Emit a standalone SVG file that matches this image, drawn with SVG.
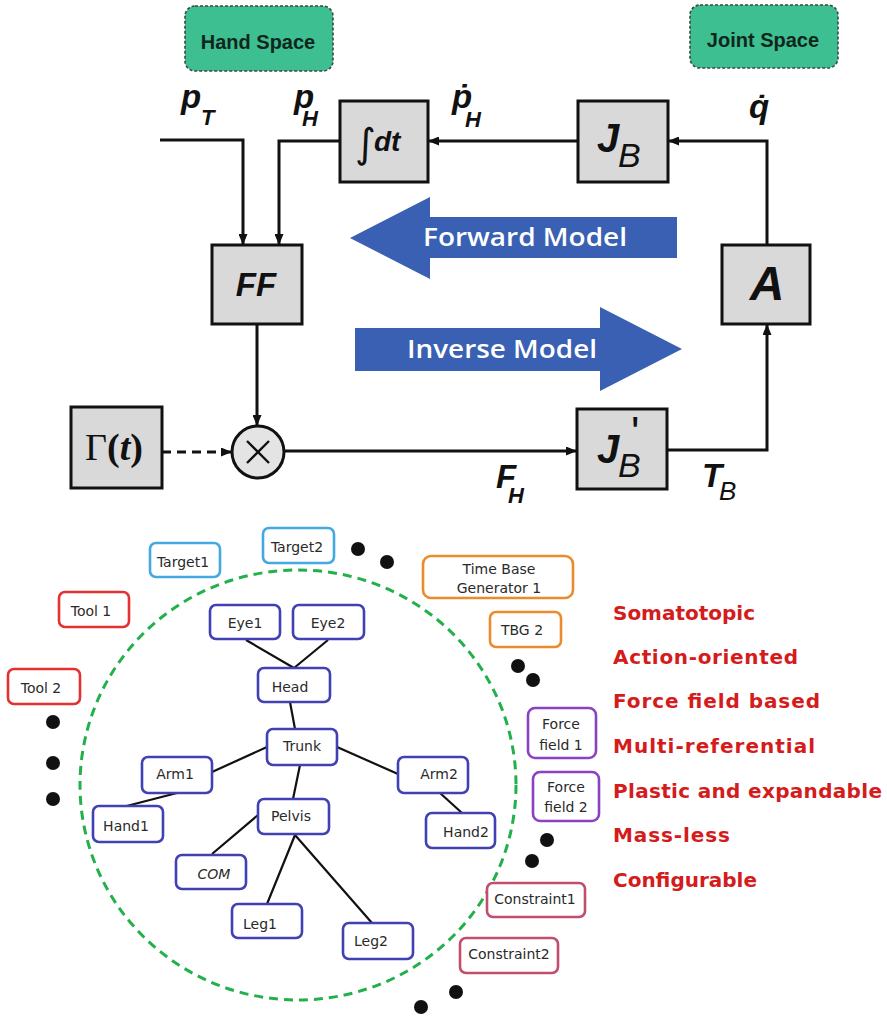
<svg xmlns="http://www.w3.org/2000/svg" width="887" height="1017" viewBox="0 0 887 1017">
<style>
.blk{fill:#d9d9d9;stroke:#111;stroke-width:3}
.sp{fill:#3dbf92;stroke:#3a4a40;stroke-width:1.6;stroke-dasharray:3,2}
.spt{font-family:"Liberation Sans",Arial,sans-serif;font-weight:bold;font-size:20px;fill:#10261c;text-anchor:middle}
.m{font-family:"Liberation Sans",Arial,sans-serif;font-weight:bold;font-style:italic;fill:#111}
.sub{font-weight:normal}
.con{fill:none;stroke:#111;stroke-width:3}
.edge{fill:none;stroke:#111;stroke-width:2.2}
.bigA{fill:#3a60b3}
.at{font-family:"Open Sans","Liberation Sans",sans-serif;font-weight:600;font-size:25px;fill:#fff}
.n{fill:#fff;stroke-width:2.6}
.nb{stroke:#4141b3}
.tg{stroke:#44a9e0}
.tl{stroke:#e33232}
.tb{stroke:#ea8b2c}
.ff{stroke:#8a42c2}
.cs{stroke:#c24d6c}
.lb{font-family:"DejaVu Sans",Verdana,sans-serif;font-size:14px;fill:#2a2a2a;text-anchor:middle}
.dot{fill:#111}
.red{font-family:"DejaVu Sans",Verdana,sans-serif;font-weight:bold;font-size:20px;fill:#d41c1c}
</style>
<defs>
<marker id="ah" markerUnits="userSpaceOnUse" markerWidth="11" markerHeight="9" refX="10" refY="4.5" orient="auto">
<path d="M0,0 L11,4.5 L0,9 z" fill="#111"/>
</marker>
</defs>

<g id="hand-space"><rect class="sp" x="185" y="6" width="148" height="65" rx="10"/><text class="spt" x="258" y="49">Hand Space</text></g>
<g id="joint-space"><rect class="sp" x="690" y="5" width="148" height="63" rx="10"/><text class="spt" x="763" y="47">Joint Space</text></g>

<g id="forward-model"><path class="bigA" d="M350,238 L430,197 L430,217 L677,217 L677,258 L430,258 L430,279 z"/><text class="at" x="525" y="246" text-anchor="middle" textLength="204" lengthAdjust="spacingAndGlyphs">Forward Model</text></g>
<g id="inverse-model"><path class="bigA" d="M355,328 L600,328 L600,307 L682,349 L600,391 L600,371 L355,371 z"/><text class="at" x="502" y="358" text-anchor="middle" textLength="190" lengthAdjust="spacingAndGlyphs">Inverse Model</text></g>

<g id="connectors">
<path class="con" d="M160,140 H243 V244" marker-end="url(#ah)"/>
<path class="con" d="M340,141 H279 V244" marker-end="url(#ah)"/>
<path class="con" d="M578,141 H429" marker-end="url(#ah)"/>
<path class="con" d="M767,245 V141 H669" marker-end="url(#ah)"/>
<path class="con" d="M257,324 V425" marker-end="url(#ah)"/>
<path class="con" d="M162,452 H231" stroke-dasharray="9,6" marker-end="url(#ah)"/>
<path class="con" d="M284,451 H576" marker-end="url(#ah)"/>
<path class="con" d="M667,450 H767 V325" marker-end="url(#ah)"/>
</g>

<g id="integrator"><rect class="blk" x="340" y="101" width="88" height="81"/><text x="355" y="157" font-family="DejaVu Sans,sans-serif" font-size="40" fill="#111">∫<tspan class="m" x="374" y="151" font-size="28">dt</tspan></text></g>
<g id="jb"><rect class="blk" x="578" y="101" width="90" height="81"/><text class="m" x="597" y="152" font-size="40">J<tspan class="sub" x="618" y="167" font-size="34">B</tspan></text></g>
<g id="ff"><rect class="blk" x="212" y="245" width="90" height="79"/><text class="m" x="256" y="296" font-size="33" text-anchor="middle">FF</text></g>
<g id="a"><rect class="blk" x="722" y="245" width="88" height="79"/><text class="m" x="767" y="300" font-size="48" text-anchor="middle">A</text></g>
<g id="gamma"><rect class="blk" x="71" y="407" width="91" height="81"/><text x="85" y="460" font-family="Liberation Serif,serif" font-size="38" fill="#111">Γ<tspan font-weight="bold">(<tspan font-style="italic">t</tspan>)</tspan></text></g>
<g id="mult"><circle cx="258" cy="452" r="26" fill="#e4e4e4" stroke="#111" stroke-width="3"/><path d="M247,441 L269,463 M269,441 L247,463" stroke="#111" stroke-width="2.4"/></g>
<g id="jbt"><rect class="blk" x="577" y="409" width="90" height="80"/><text class="m" x="597" y="463" font-size="40">J<tspan class="sub" x="618" y="477" font-size="34">B</tspan><tspan class="sub" x="631" y="448" font-size="44" font-style="normal">'</tspan></text></g>

<g id="labels-top">
<text class="m" x="181" y="108" font-size="33">p<tspan x="201" y="125" font-size="22">T</tspan></text>
<text class="m" x="294" y="108" font-size="33">p<tspan x="302" y="126" font-size="22">H</tspan></text>
<text class="m" x="452" y="108" font-size="33">ṗ<tspan x="465" y="127" font-size="22">H</tspan></text>
<text class="m" x="749" y="118" font-size="33">q̇</text>
<text class="m" x="496" y="488" font-size="33">F<tspan x="508" y="503" font-size="22">H</tspan></text>
<text class="m" x="702" y="487" font-size="33">T<tspan class="sub" x="719" y="500" font-size="26">B</tspan></text>
</g>

<ellipse cx="298" cy="785" rx="218" ry="215" fill="none" stroke="#22b04a" stroke-width="3" stroke-dasharray="9,6"/>

<g id="body-edges">
<path class="edge" d="M246,640 L294,668 M328,640 L294,668 M290,702 L295,729 M267,747 L212,772 M337,747 L398,774 M300,765 L293,799 M177,793 L115,809 M440,793 L462,813 M258,815 L212,854 M295,835 L267,904 M295,835 L372,923"/>
</g>

<g id="eye1"><rect class="n nb" x="210" y="605" width="70" height="34" rx="6"/><text class="lb" x="245" y="628">Eye1</text></g>
<g id="eye2"><rect class="n nb" x="293" y="605" width="71" height="34" rx="6"/><text class="lb" x="328" y="628">Eye2</text></g>
<g id="head"><rect class="n nb" x="258" y="668" width="72" height="34" rx="6"/><text class="lb" x="290" y="692">Head</text></g>
<g id="trunk"><rect class="n nb" x="267" y="729" width="70" height="36" rx="6"/><text class="lb" x="302" y="751">Trunk</text></g>
<g id="arm1"><rect class="n nb" x="142" y="757" width="70" height="36" rx="6"/><text class="lb" x="175" y="779">Arm1</text></g>
<g id="arm2"><rect class="n nb" x="398" y="757" width="70" height="36" rx="6"/><text class="lb" x="439" y="779">Arm2</text></g>
<g id="hand1"><rect class="n nb" x="93" y="806" width="70" height="36" rx="6"/><text class="lb" x="126" y="831">Hand1</text></g>
<g id="hand2"><rect class="n nb" x="426" y="813" width="69" height="35" rx="6"/><text class="lb" x="466" y="837">Hand2</text></g>
<g id="pelvis"><rect class="n nb" x="258" y="799" width="71" height="35" rx="6"/><text class="lb" x="291" y="821">Pelvis</text></g>
<g id="com"><rect class="n nb" x="176" y="855" width="70" height="34" rx="6"/><text class="lb" x="214" y="879" font-style="italic">COM</text></g>
<g id="leg1"><rect class="n nb" x="232" y="904" width="70" height="34" rx="6"/><text class="lb" x="260" y="929">Leg1</text></g>
<g id="leg2"><rect class="n nb" x="343" y="923" width="70" height="36" rx="6"/><text class="lb" x="371" y="946">Leg2</text></g>

<g id="target1"><rect class="n tg" x="150" y="543" width="70" height="34" rx="6"/><text class="lb" x="183" y="567">Target1</text></g>
<g id="target2"><rect class="n tg" x="263" y="528" width="71" height="35" rx="6"/><text class="lb" x="297" y="552">Target2</text></g>
<g id="tool1"><rect class="n tl" x="59" y="592" width="70" height="35" rx="6"/><text class="lb" x="91" y="616">Tool 1</text></g>
<g id="tool2"><rect class="n tl" x="8" y="669" width="72" height="35" rx="6"/><text class="lb" x="41" y="693">Tool 2</text></g>
<g id="tbg1"><rect class="n tb" x="423" y="556" width="150" height="42" rx="8"/><text class="lb" x="499" y="574">Time Base</text><text class="lb" x="499" y="593">Generator 1</text></g>
<g id="tbg2"><rect class="n tb" x="490" y="612" width="71" height="35" rx="6"/><text class="lb" x="522" y="635">TBG 2</text></g>
<g id="ff1"><rect class="n ff" x="528" y="708" width="68" height="50" rx="7"/><text class="lb" x="561" y="729">Force</text><text class="lb" x="561" y="750">field 1</text></g>
<g id="ff2"><rect class="n ff" x="533" y="772" width="66" height="49" rx="7"/><text class="lb" x="566" y="792">Force</text><text class="lb" x="566" y="812">field 2</text></g>
<g id="constraint1"><rect class="n cs" x="487" y="883" width="98" height="34" rx="6"/><text class="lb" x="535" y="904">Constraint1</text></g>
<g id="constraint2"><rect class="n cs" x="460" y="938" width="98" height="35" rx="6"/><text class="lb" x="509" y="959">Constraint2</text></g>

<g id="ellipsis-dots">
<circle class="dot" cx="53" cy="722" r="7"/><circle class="dot" cx="53" cy="763" r="7"/><circle class="dot" cx="53" cy="799" r="7"/>
<circle class="dot" cx="358" cy="549" r="7"/><circle class="dot" cx="387" cy="562" r="7"/>
<circle class="dot" cx="518" cy="666" r="7"/><circle class="dot" cx="533" cy="680" r="7"/>
<circle class="dot" cx="547" cy="840" r="7"/><circle class="dot" cx="532" cy="861" r="7"/>
<circle class="dot" cx="456" cy="992" r="7"/><circle class="dot" cx="421" cy="1007" r="7"/>
</g>

<g id="properties">
<text class="red" x="613" y="620" textLength="142">Somatotopic</text>
<text class="red" x="613" y="664" textLength="185">Action-oriented</text>
<text class="red" x="613" y="708" textLength="207">Force field based</text>
<text class="red" x="613" y="753" textLength="202">Multi-referential</text>
<text class="red" x="613" y="798" textLength="269">Plastic and expandable</text>
<text class="red" x="613" y="842" textLength="117">Mass-less</text>
<text class="red" x="613" y="887" textLength="144">Configurable</text>
</g>
</svg>
